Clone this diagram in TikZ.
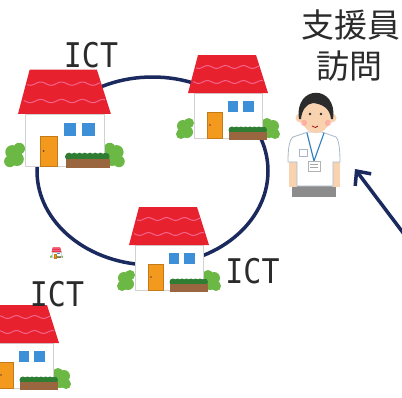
\documentclass[tikz,border=0pt]{standalone}
\usepackage{fontspec}
\usepackage{graphicx}
\usetikzlibrary{arrows.meta}
\newfontfamily\jpfont{Noto Sans CJK JP}
\newfontfamily\ictfont{DejaVu Sans Mono}

\definecolor{navy}{HTML}{1B2A5E}
\definecolor{roofred}{HTML}{E8212F}
\definecolor{roofwave}{HTML}{F2648A}
\definecolor{doororange}{HTML}{F39A1E}
\definecolor{winblue}{HTML}{3D8FD8}
\definecolor{hedgebrown}{HTML}{9A6640}
\definecolor{hedgegreen}{HTML}{2E7D32}
\definecolor{shrubgreen}{HTML}{6CB845}
\definecolor{skin}{HTML}{F9D3B0}
\definecolor{hair}{HTML}{2B2B2B}
\definecolor{shirtline}{HTML}{A8B8C8}
\definecolor{lanyard}{HTML}{2F7FC0}
\definecolor{pants}{HTML}{8C8C8C}
\definecolor{inkgray}{HTML}{2B2B2B}

\tikzset{
  ring/.style={draw=navy, line width=3.5pt},
  pointer/.style={draw=navy, line width=3.5pt, -{Straight Barb[length=11pt,width=20pt]}},
  ict/.style={font=\ictfont\fontsize{34}{34}\selectfont, text=inkgray, inner sep=0pt, xscale=0.88},
  jp/.style={font=\jpfont\fontsize{33}{33}\selectfont, text=inkgray, inner sep=0pt},
  % a small house with shrubs and a hedge; origin at the bottom-left of the wall
  house/.pic={
    % shrubs on both sides
    \fill[shrubgreen] (-13,-4) circle (5) (-7,-6) circle (6) (-11,-12) circle (6) (-5,-15) circle (5);
    \fill[shrubgreen] (81,-4) circle (5) (75,-6) circle (6) (79,-12) circle (6) (73,-15) circle (5);
    % wall
    \filldraw[fill=white, draw=gray!35, line width=0.6pt] (0,0) rectangle (68,-45);
    % roof with two wavy stripes
    \fill[roofred] (-6,-45) -- (74,-45) -- (62,-83) -- (4,-83) -- cycle;
    \draw[roofwave, line width=1pt] plot[domain=-1:69, samples=50] (\x, {-56+1.4*sin(\x*20)});
    \draw[roofwave, line width=1pt] plot[domain=2:65, samples=50] (\x, {-71+1.4*sin(\x*20)});
    % door and knob
    \filldraw[fill=doororange, draw=doororange!80!black, line width=0.4pt] (13,0) rectangle (28,-26);
    \fill[hedgebrown!70!black] (16,-13) circle (0.9);
    % windows
    \fill[winblue] (34,-37) rectangle (44,-26);
    \fill[winblue] (49,-37) rectangle (60,-26);
    % hedge box
    \foreach \hx in {38,42.5,...,71} {\fill[hedgegreen] (\hx,-8) circle (3.5);}
    \fill[hedgebrown] (35,-6) rectangle (73,2);
  }
}

\begin{document}
\begin{tikzpicture}[x=1pt, y=-1pt]
\useasboundingbox (0,0) rectangle (402,397);
\fill[white] (0,0) rectangle (402,397);

% the ring linking the homes
\draw[ring] (152.5,171) ellipse [x radius=115.5pt, y radius=94pt];

% homes
\pic[scale=1.16] (home1) at (25,166) {house};
\pic (home2) at (194,138) {house};
\pic (home3) at (135,290) {house};
\pic (home4) at (-15,388) {house};
\pic[scale=0.125] (tiny) at (52.3,257.7) {house};

% labels
\node[ict] (ict1) at (91,55.5) {ICT};
\node[ict] (ict2) at (252.5,271) {ICT};
\node[ict] (ict3) at (57,294.5) {ICT};
\node[jp] (role) at (351,25) {支援員};
\node[jp] (visit) at (349,66) {訪問};

% support worker
\fill[pants] (292,183) rectangle (336,197);
\fill[skin] (289,158) rectangle (297,187);
\fill[skin] (332,158) rectangle (340,187);
\fill[skin] (310,126) rectangle (322,136);
\filldraw[fill=white, draw=shirtline, line width=0.8pt]
  (308,132) -- (293,137) .. controls (289,140) and (288,150) .. (288,162) -- (297,162)
  -- (297,186) -- (333,186) -- (333,162) -- (340,162)
  .. controls (340,150) and (339,140) .. (336,137) -- (322,132) -- cycle;
\draw[shirtline, line width=0.6pt] (299,149) rectangle (307,156);
\draw[lanyard, line width=1.1pt] (307,133) -- (314,161) -- (324,133);
\filldraw[fill=white, draw=gray!60, line width=0.5pt] (308,161) rectangle (320,171);
\draw[gray!70, line width=0.4pt] (310,164.5) -- (318,164.5) (310,167.5) -- (318,167.5);
% head
\fill[skin] (300,118) circle (4.5);
\fill[skin] (332,118) circle (4.5);
\fill[skin] (316,115) ellipse [x radius=15pt, y radius=18pt];
\fill[hair] (299,119) .. controls (294,84) and (338,84) .. (333,119)
  -- (331,119) .. controls (330,108) and (322,104) .. (313,103)
  .. controls (306,104) and (302,110) .. (301,119) -- cycle;
\fill[red!40, opacity=0.6] (304,123) circle (3.2) (328,123) circle (3.2);
\fill[hair] (310,114) circle (1.3) (321,114) circle (1.3);
\draw[red!60!black, line width=0.7pt] (312,126) .. controls (314,128) and (317,128) .. (318,126);

% pointer toward the worker
\coordinate (from) at (404,234);
\coordinate (to) at (355,169);
\draw[pointer] (from) -- (to);
\end{tikzpicture}
\end{document}
